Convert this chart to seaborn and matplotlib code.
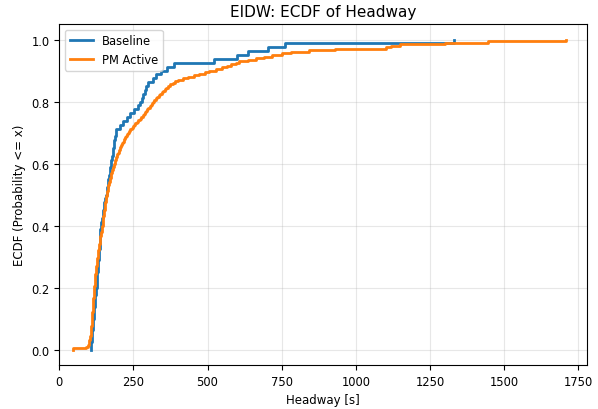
import matplotlib
matplotlib.use("Agg")
import matplotlib.pyplot as plt
from matplotlib.ticker import MultipleLocator
import seaborn as sns

# headway samples [s]
baseline_headway = [
    106, 108, 110, 111, 112, 113, 114, 115, 116, 117,
    118, 119, 121, 122, 123, 125, 126, 127, 128, 129,
    130, 131, 132, 133, 134, 135, 136, 137, 137, 138,
    139, 140, 142, 144, 146, 148, 150, 152, 154, 157,
    160, 162, 164, 166, 168, 170, 172, 174, 176, 178,
    180, 182, 184, 186, 188, 190, 193, 204, 216, 227,
    238, 253, 264, 271, 278, 283, 288, 291, 299, 316,
    327, 342, 365, 387, 523, 599, 638, 704, 761, 1330,
]

pm_active_headway = [
    48, 92, 98, 100, 101, 102, 103, 104, 105, 106,
    106, 107, 107, 108, 108, 109, 109, 110, 110, 111,
    111, 112, 112, 112, 113, 113, 113, 114, 114, 114,
    115, 115, 115, 116, 116, 116, 117, 117, 118, 118,
    118, 119, 119, 120, 120, 121, 121, 122, 122, 123,
    124, 124, 125, 125, 126, 127, 127, 128, 129, 130,
    130, 131, 132, 132, 133, 134, 135, 135, 136, 137,
    138, 139, 139, 140, 141, 142, 143, 143, 144, 145,
    146, 146, 147, 148, 149, 149, 150, 151, 152, 152,
    153, 154, 155, 155, 156, 157, 158, 158, 159, 160,
    161, 162, 163, 164, 165, 166, 167, 168, 170, 171,
    172, 173, 175, 176, 177, 179, 180, 182, 184, 186,
    187, 189, 191, 192, 194, 196, 198, 200, 202, 204,
    206, 209, 211, 214, 217, 220, 223, 226, 229, 232,
    236, 240, 244, 249, 253, 257, 262, 266, 271, 277,
    281, 285, 289, 293, 297, 301, 305, 309, 312, 316,
    321, 326, 331, 336, 341, 346, 351, 356, 361, 366,
    374, 382, 390, 399, 416, 435, 455, 472, 490, 505,
    528, 550, 565, 580, 595, 607, 635, 663, 690, 718,
    750, 780, 841, 931, 1100, 1120, 1150, 1300, 1445, 1710,
]

series_labels = ["Baseline", "PM Active"]

fig, ax = plt.subplots(figsize=(5.98, 4.10), dpi=100)
fig.subplots_adjust(left=0.099, right=0.981, bottom=0.107, top=0.939)

sns.ecdfplot(x=baseline_headway, ax=ax, label=series_labels[0], color="tab:blue", linewidth=2)
sns.ecdfplot(x=pm_active_headway, ax=ax, label=series_labels[1], color="tab:orange", linewidth=2)

ax.set_xlim(0, 1778)
ax.set_ylim(-0.05, 1.05)
ax.xaxis.set_major_locator(MultipleLocator(250))
ax.set_title("EIDW: ECDF of Headway", fontsize=11)
ax.set_xlabel("Headway [s]", fontsize=8.5)
ax.set_ylabel("ECDF (Probability <= x)", fontsize=8.5)
ax.tick_params(labelsize=8.3)
ax.grid(True, alpha=0.3)
ax.legend(loc="upper left", fontsize=8.3)

fig.savefig("out.png", dpi=100)
